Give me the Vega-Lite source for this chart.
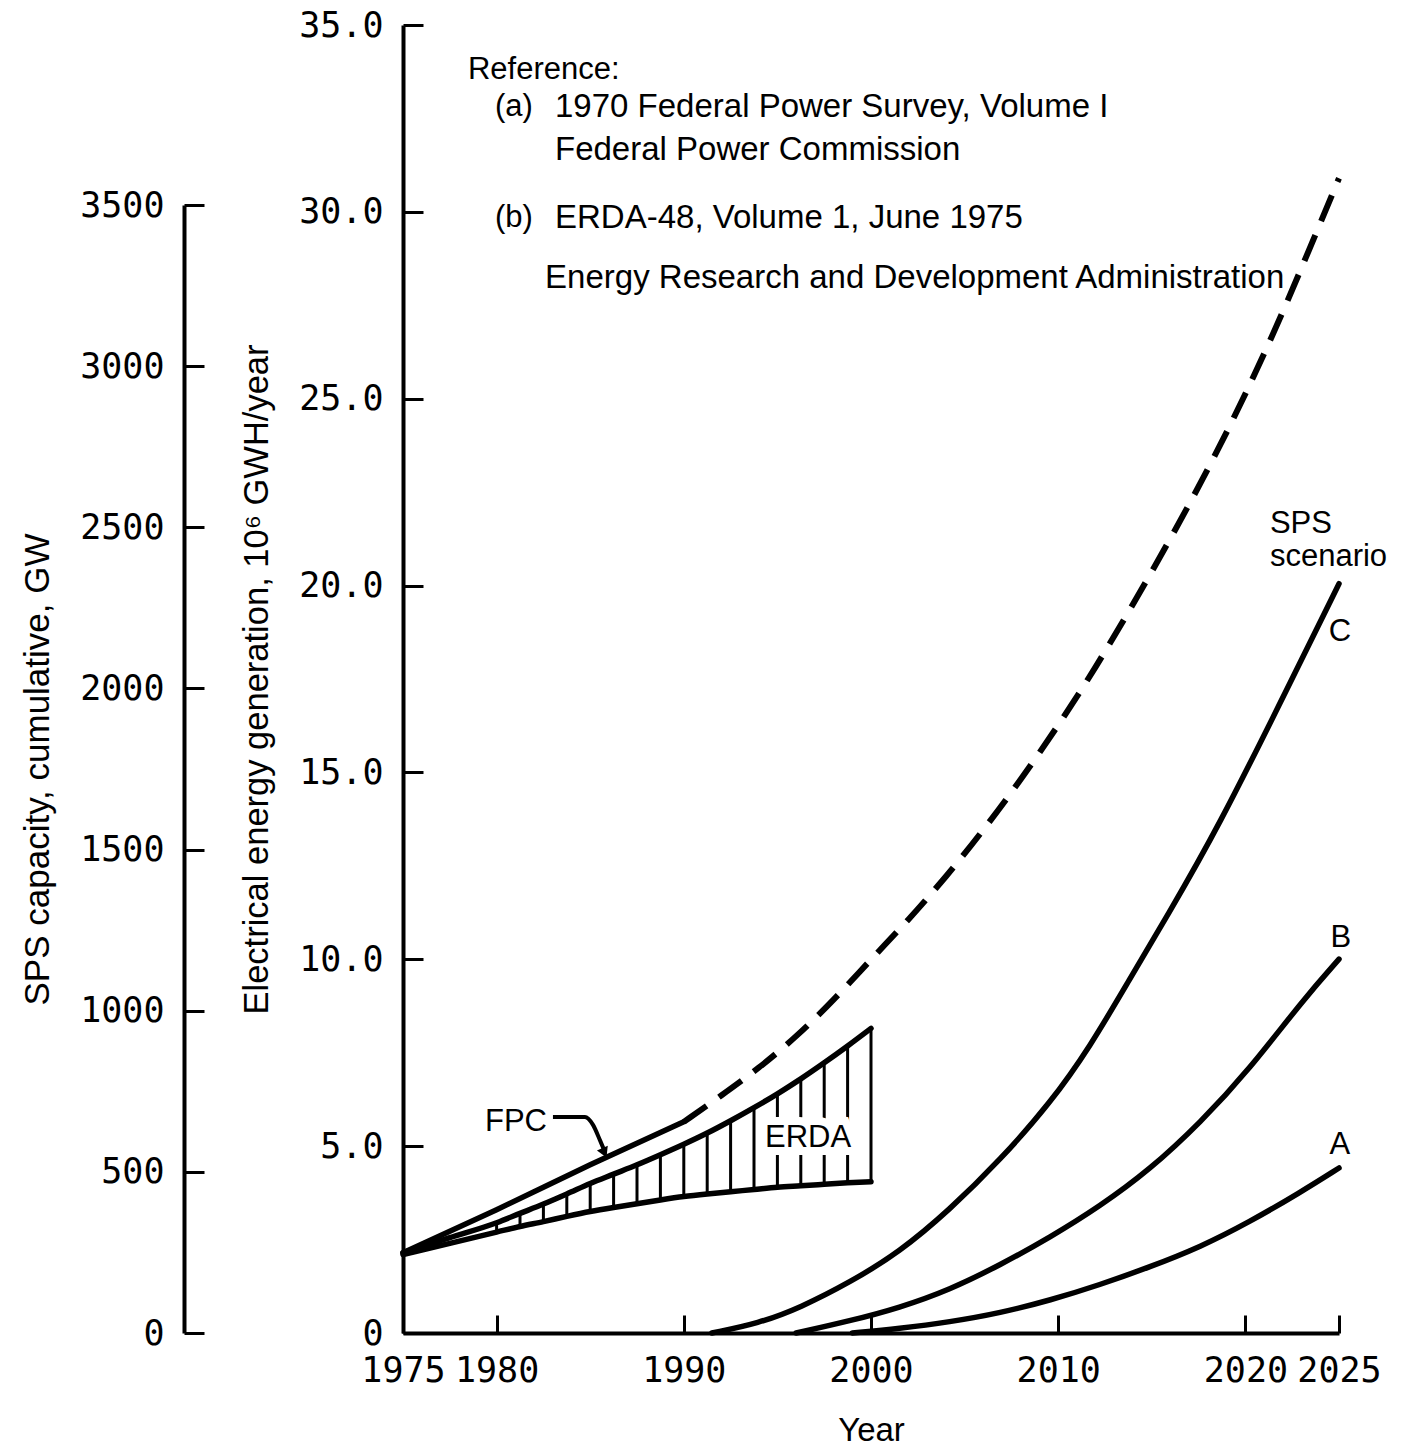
{
  "$schema": "https://vega.github.io/schema/vega-lite/v6.json",
  "width": 936,
  "height": 1308,
  "autosize": {"type": "none"},
  "padding": {"left": 403, "top": 25, "right": 66, "bottom": 115},
  "background": "white",
  "config": {
    "view": {"stroke": null},
    "axis": {
      "grid": false,
      "domainColor": "black",
      "domainWidth": 4,
      "tickColor": "black",
      "tickWidth": 3,
      "labelColor": "black",
      "labelFont": "DejaVu Sans Mono",
      "labelFontSize": 35,
      "titleColor": "black",
      "titleFont": "Liberation Sans",
      "titleFontWeight": "normal",
      "labelFlush": false,
      "labelOverlap": false,
      "labelBound": false
    }
  },
  "datasets": {
    "edges": [
      {"yr": 1975, "v": 2.15, "series": "FPC"},
      {"yr": 1980, "v": 3.3, "series": "FPC"},
      {"yr": 1985, "v": 4.5, "series": "FPC"},
      {"yr": 1990, "v": 5.65, "series": "FPC"},
      {"yr": 1975, "v": 2.15, "series": "ERDA high"},
      {"yr": 1977.5, "v": 2.55, "series": "ERDA high"},
      {"yr": 1980, "v": 2.95, "series": "ERDA high"},
      {"yr": 1981.25, "v": 3.2, "series": "ERDA high"},
      {"yr": 1982.5, "v": 3.45, "series": "ERDA high"},
      {"yr": 1983.75, "v": 3.72, "series": "ERDA high"},
      {"yr": 1985, "v": 4.0, "series": "ERDA high"},
      {"yr": 1986.25, "v": 4.25, "series": "ERDA high"},
      {"yr": 1987.5, "v": 4.5, "series": "ERDA high"},
      {"yr": 1988.75, "v": 4.77, "series": "ERDA high"},
      {"yr": 1990, "v": 5.05, "series": "ERDA high"},
      {"yr": 1991.25, "v": 5.35, "series": "ERDA high"},
      {"yr": 1992.5, "v": 5.68, "series": "ERDA high"},
      {"yr": 1993.75, "v": 6.03, "series": "ERDA high"},
      {"yr": 1995, "v": 6.4, "series": "ERDA high"},
      {"yr": 1996.25, "v": 6.8, "series": "ERDA high"},
      {"yr": 1997.5, "v": 7.23, "series": "ERDA high"},
      {"yr": 1998.75, "v": 7.68, "series": "ERDA high"},
      {"yr": 2000, "v": 8.15, "series": "ERDA high"},
      {"yr": 1975, "v": 2.1, "series": "ERDA low"},
      {"yr": 1977.5, "v": 2.4, "series": "ERDA low"},
      {"yr": 1980, "v": 2.7, "series": "ERDA low"},
      {"yr": 1981.25, "v": 2.85, "series": "ERDA low"},
      {"yr": 1982.5, "v": 2.98, "series": "ERDA low"},
      {"yr": 1983.75, "v": 3.12, "series": "ERDA low"},
      {"yr": 1985, "v": 3.25, "series": "ERDA low"},
      {"yr": 1986.25, "v": 3.36, "series": "ERDA low"},
      {"yr": 1987.5, "v": 3.46, "series": "ERDA low"},
      {"yr": 1988.75, "v": 3.56, "series": "ERDA low"},
      {"yr": 1990, "v": 3.65, "series": "ERDA low"},
      {"yr": 1991.25, "v": 3.72, "series": "ERDA low"},
      {"yr": 1992.5, "v": 3.78, "series": "ERDA low"},
      {"yr": 1993.75, "v": 3.84, "series": "ERDA low"},
      {"yr": 1995, "v": 3.9, "series": "ERDA low"},
      {"yr": 1996.25, "v": 3.94, "series": "ERDA low"},
      {"yr": 1997.5, "v": 3.98, "series": "ERDA low"},
      {"yr": 1998.75, "v": 4.02, "series": "ERDA low"},
      {"yr": 2000, "v": 4.05, "series": "ERDA low"}
    ],
    "fpcProjection": [
      {"yr": 1990, "v": 5.65},
      {"yr": 1992, "v": 6.35},
      {"yr": 1994, "v": 7.08},
      {"yr": 1996, "v": 7.92},
      {"yr": 1998, "v": 8.9},
      {"yr": 2000, "v": 10.0},
      {"yr": 2002, "v": 11.05},
      {"yr": 2004, "v": 12.2},
      {"yr": 2006, "v": 13.45},
      {"yr": 2008, "v": 14.8},
      {"yr": 2010, "v": 16.25},
      {"yr": 2012, "v": 17.8},
      {"yr": 2014, "v": 19.5},
      {"yr": 2016, "v": 21.25},
      {"yr": 2018, "v": 23.1},
      {"yr": 2020, "v": 25.1},
      {"yr": 2022, "v": 27.3},
      {"yr": 2024, "v": 29.7},
      {"yr": 2025, "v": 30.9}
    ],
    "erdaBand": [
      {"yr": 1980, "v": 2.95, "lo": 2.7},
      {"yr": 1981.25, "v": 3.2, "lo": 2.85},
      {"yr": 1982.5, "v": 3.45, "lo": 2.98},
      {"yr": 1983.75, "v": 3.72, "lo": 3.12},
      {"yr": 1985, "v": 4.0, "lo": 3.25},
      {"yr": 1986.25, "v": 4.25, "lo": 3.36},
      {"yr": 1987.5, "v": 4.5, "lo": 3.46},
      {"yr": 1988.75, "v": 4.77, "lo": 3.56},
      {"yr": 1990, "v": 5.05, "lo": 3.65},
      {"yr": 1991.25, "v": 5.35, "lo": 3.72},
      {"yr": 1992.5, "v": 5.68, "lo": 3.78},
      {"yr": 1993.75, "v": 6.03, "lo": 3.84},
      {"yr": 1995, "v": 6.4, "lo": 3.9},
      {"yr": 1996.25, "v": 6.8, "lo": 3.94},
      {"yr": 1997.5, "v": 7.23, "lo": 3.98},
      {"yr": 1998.75, "v": 7.68, "lo": 4.02},
      {"yr": 2000, "v": 8.15, "lo": 4.05}
    ],
    "arrow": [
      {"yr": 1983.01, "v": 5.78},
      {"yr": 1984.72, "v": 5.78},
      {"yr": 1985.15, "v": 5.57},
      {"yr": 1985.52, "v": 5.16},
      {"yr": 1985.74, "v": 4.9}
    ],
    "arrowHead": [
      {"yr": 1985.76, "v": 4.82}
    ],
    "notes": [
      {"yr": 1978.47, "v": 33.8, "label": "Reference:"},
      {"yr": 1979.91, "v": 32.81, "label": "(a)"},
      {"yr": 1979.91, "v": 29.84, "label": "(b)"}
    ],
    "sources": [
      {"yr": 1983.12, "v": 32.81, "label": "1970 Federal Power Survey, Volume I"},
      {"yr": 1983.12, "v": 31.66, "label": "Federal Power Commission"},
      {"yr": 1983.12, "v": 29.84, "label": "ERDA-48, Volume 1, June 1975"},
      {"yr": 1982.59, "v": 28.23, "label": "Energy Research and Development Administration"}
    ],
    "curveNotes": [
      {"yr": 1979.38, "v": 5.65, "label": "FPC"},
      {"yr": 2021.31, "v": 21.65, "label": "SPS"},
      {"yr": 2021.31, "v": 20.77, "label": "scenario"}
    ],
    "bandNote": [
      {"yr": 1994.34, "v": 5.22, "label": "ERDA"}
    ],
    "scenarioLabels": [
      {"yr": 2025.05, "v": 18.76, "label": "C"},
      {"yr": 2025.1, "v": 10.57, "label": "B"},
      {"yr": 2025.05, "v": 5.03, "label": "A"}
    ],
    "sps": [
      {"yr": 1991.5, "gw": 0, "scenario": "C"},
      {"yr": 1994, "gw": 30, "scenario": "C"},
      {"yr": 1996.2, "gw": 78, "scenario": "C"},
      {"yr": 1998.9, "gw": 158, "scenario": "C"},
      {"yr": 2001.5, "gw": 250, "scenario": "C"},
      {"yr": 2004.2, "gw": 382, "scenario": "C"},
      {"yr": 2006.9, "gw": 537, "scenario": "C"},
      {"yr": 2009.6, "gw": 715, "scenario": "C"},
      {"yr": 2011.7, "gw": 888, "scenario": "C"},
      {"yr": 2013.8, "gw": 1096, "scenario": "C"},
      {"yr": 2015.8, "gw": 1292, "scenario": "C"},
      {"yr": 2018.5, "gw": 1563, "scenario": "C"},
      {"yr": 2022.4, "gw": 2018, "scenario": "C"},
      {"yr": 2025, "gw": 2325, "scenario": "C"},
      {"yr": 1996, "gw": 0, "scenario": "B"},
      {"yr": 1998.9, "gw": 38, "scenario": "B"},
      {"yr": 2001.5, "gw": 78, "scenario": "B"},
      {"yr": 2004.2, "gw": 134, "scenario": "B"},
      {"yr": 2006.9, "gw": 211, "scenario": "B"},
      {"yr": 2009.6, "gw": 298, "scenario": "B"},
      {"yr": 2012.2, "gw": 392, "scenario": "B"},
      {"yr": 2014.9, "gw": 507, "scenario": "B"},
      {"yr": 2017.6, "gw": 653, "scenario": "B"},
      {"yr": 2020.2, "gw": 817, "scenario": "B"},
      {"yr": 2023.1, "gw": 1035, "scenario": "B"},
      {"yr": 2025, "gw": 1160, "scenario": "B"},
      {"yr": 1999, "gw": 0, "scenario": "A"},
      {"yr": 2001.5, "gw": 14, "scenario": "A"},
      {"yr": 2004.2, "gw": 34, "scenario": "A"},
      {"yr": 2006.9, "gw": 62, "scenario": "A"},
      {"yr": 2009.6, "gw": 102, "scenario": "A"},
      {"yr": 2012.2, "gw": 149, "scenario": "A"},
      {"yr": 2014.9, "gw": 205, "scenario": "A"},
      {"yr": 2017.6, "gw": 267, "scenario": "A"},
      {"yr": 2020.2, "gw": 344, "scenario": "A"},
      {"yr": 2022.9, "gw": 435, "scenario": "A"},
      {"yr": 2025, "gw": 512, "scenario": "A"}
    ]
  },
  "encoding": {
    "x": {
      "field": "yr",
      "type": "quantitative",
      "scale": {"domain": [1975, 2025], "nice": false, "zero": false},
      "axis": {
        "title": "Year",
        "values": [1975, 1980, 1990, 2000, 2010, 2020, 2025],
        "format": "d",
        "tickSize": -18,
        "labelPadding": 38,
        "titleFontSize": 33,
        "titlePadding": 26
      }
    }
  },
  "layer": [
    {
      "encoding": {
        "y": {
          "field": "v",
          "type": "quantitative",
          "scale": {"domain": [0, 35], "nice": false, "zero": true},
          "axis": {
            "orient": "left",
            "title": "Electrical energy generation, 10⁶ GWH/year",
            "values": [0, 5, 10, 15, 20, 25, 30, 35],
            "labelExpr": "datum.value == 0 ? '0' : format(datum.value, '.1f')",
            "tickSize": -20,
            "labelPadding": 40,
            "titleFontSize": 34.5,
            "titlePadding": 24
          }
        }
      },
      "layer": [
        {
          "data": {"name": "erdaBand"},
          "mark": {"type": "rule", "color": "black", "strokeWidth": 3},
          "encoding": {"y2": {"field": "lo"}}
        },
        {
          "data": {"name": "edges"},
          "mark": {"type": "line", "color": "black", "strokeWidth": 5.5, "interpolate": "monotone", "strokeCap": "round"},
          "encoding": {"detail": {"field": "series"}}
        },
        {
          "data": {"name": "fpcProjection"},
          "mark": {"type": "line", "color": "black", "strokeWidth": 6, "interpolate": "basis", "strokeDash": [28, 15], "strokeCap": "butt"},
          "encoding": {}
        },
        {
          "data": {"name": "arrow"},
          "mark": {"type": "line", "color": "black", "strokeWidth": 4, "interpolate": "monotone"},
          "encoding": {}
        },
        {
          "data": {"name": "arrowHead"},
          "mark": {"type": "point", "shape": "triangle-down", "filled": true, "color": "black", "opacity": 1, "size": 140, "angle": 336},
          "encoding": {}
        },
        {
          "data": {"name": "notes"},
          "mark": {"type": "text", "align": "left", "baseline": "middle", "font": "Liberation Sans", "fontSize": 31, "color": "black"},
          "encoding": {"text": {"field": "label"}}
        },
        {
          "data": {"name": "sources"},
          "mark": {"type": "text", "align": "left", "baseline": "middle", "font": "Liberation Sans", "fontSize": 33, "color": "black"},
          "encoding": {"text": {"field": "label"}}
        },
        {
          "data": {"name": "curveNotes"},
          "mark": {"type": "text", "align": "left", "baseline": "middle", "font": "Liberation Sans", "fontSize": 31, "color": "black"},
          "encoding": {"text": {"field": "label"}}
        },
        {
          "data": {"name": "bandNote"},
          "mark": {"type": "text", "align": "left", "baseline": "middle", "font": "Liberation Sans", "fontSize": 31, "color": "white", "stroke": "white", "strokeWidth": 16, "strokeJoin": "miter"},
          "encoding": {"text": {"field": "label"}}
        },
        {
          "data": {"name": "bandNote"},
          "mark": {"type": "text", "align": "left", "baseline": "middle", "font": "Liberation Sans", "fontSize": 31, "color": "black"},
          "encoding": {"text": {"field": "label"}}
        },
        {
          "data": {"name": "scenarioLabels"},
          "mark": {"type": "text", "align": "center", "baseline": "middle", "font": "Liberation Sans", "fontSize": 31, "color": "black"},
          "encoding": {"text": {"field": "label"}}
        }
      ]
    },
    {
      "data": {"name": "sps"},
      "mark": {"type": "line", "color": "black", "strokeWidth": 5.5, "interpolate": "basis", "strokeCap": "round"},
      "encoding": {
        "y": {
          "field": "gw",
          "type": "quantitative",
          "scale": {"domain": [0, 3500], "range": [1308, 180], "nice": false, "zero": true},
          "axis": {
            "orient": "left",
            "offset": 219,
            "title": "SPS capacity, cumulative, GW",
            "values": [0, 500, 1000, 1500, 2000, 2500, 3000, 3500],
            "format": "d",
            "tickSize": -20,
            "labelPadding": 40,
            "titleFontSize": 35,
            "titlePadding": 24
          }
        },
        "detail": {"field": "scenario"}
      }
    }
  ],
  "resolve": {"scale": {"y": "independent"}}
}
